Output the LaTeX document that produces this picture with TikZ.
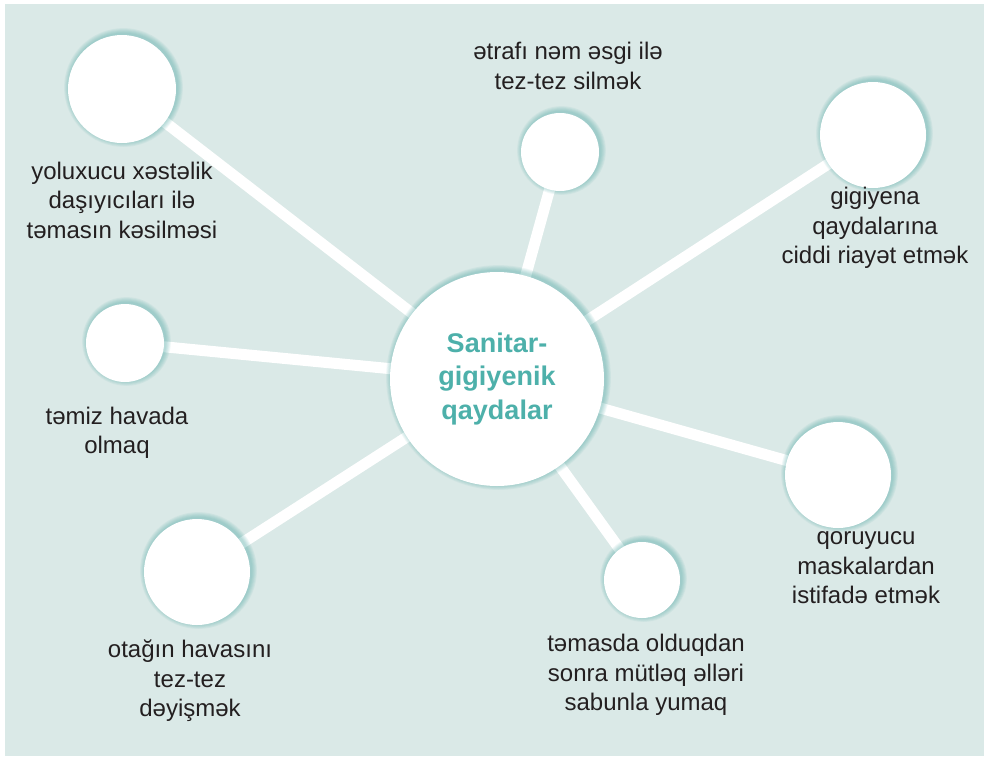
\documentclass[tikz,border=0pt]{standalone}
\usepackage{fontspec}
\setmainfont{Liberation Sans}
\usetikzlibrary{backgrounds}
\definecolor{paper}{RGB}{218,233,231}
\definecolor{tealtxt}{RGB}{77,176,170}
\definecolor{halo}{RGB}{60,160,155}
\definecolor{ink}{RGB}{35,31,32}
\begin{document}
\begin{tikzpicture}[x=1pt,y=-1pt,
    bub/.style={circle,fill=white,inner sep=0pt},
    lbl/.style={align=center,text=ink,font=\fontsize{24}{29.5}\selectfont},
    spoke/.style={white,line width=11pt}]
  \useasboundingbox (0,0) rectangle (984,756);
  % circles
  \node[bub,minimum size=214pt,align=center,text=tealtxt,
        font=\fontsize{27}{33.5}\selectfont\bfseries] (hub) at (497,379) {Sanitar-\\gigiyenik\\qaydalar};
  \node[bub,minimum size=108pt] (carrier) at (122,89) {};
  \node[bub,minimum size=78pt]  (wipe)    at (560,152) {};
  \node[bub,minimum size=106pt] (hyg)     at (873,135) {};
  \node[bub,minimum size=78pt]  (air)     at (125,343) {};
  \node[bub,minimum size=106pt] (mask)    at (838,475) {};
  \node[bub,minimum size=76pt]  (wash)    at (642,580) {};
  \node[bub,minimum size=106pt] (vent)    at (197,572) {};
  % labels
  \node[lbl] (carrierT) at (122,200) {yoluxucu xəstəlik\\daşıyıcıları ilə\\təmasın kəsilməsi};
  \node[lbl] (wipeT)    at (568,66)  {ətrafı nəm əsgi ilə\\tez-tez silmək};
  \node[lbl] (hygT)     at (875,228) {gigiyena\\qaydalarına\\ciddi riayət etmək};
  \node[lbl] (airT)     at (117,433) {təmiz havada\\olmaq};
  \node[lbl] (maskT)    at (866,568) {qoruyucu\\maskalardan\\istifadə etmək};
  \node[lbl] (washT)    at (646,675) {təmasda olduqdan\\sonra mütləq əlləri\\sabunla yumaq};
  \node[lbl] (ventT)    at (190,681) {otağın havasını\\tez-tez\\dəyişmək};
  \begin{scope}[on background layer]
    \fill[paper] (5,4) rectangle (984,756);
    \foreach \n in {carrier,wipe,hyg,air,mask,wash,vent}
      \draw[spoke] (hub.center) -- (\n.center);
    % soft teal halo
    \foreach \n/\r in {hub/107,carrier/54,wipe/39,hyg/53,air/39,mask/53,wash/38,vent/53}
      \foreach \k in {1,...,6}
        \fill[halo,opacity=0.07] ([shift={(1.5,-1.5)}]\n.center) circle (\r+\k*0.9);
  \end{scope}
\end{tikzpicture}
\end{document}
